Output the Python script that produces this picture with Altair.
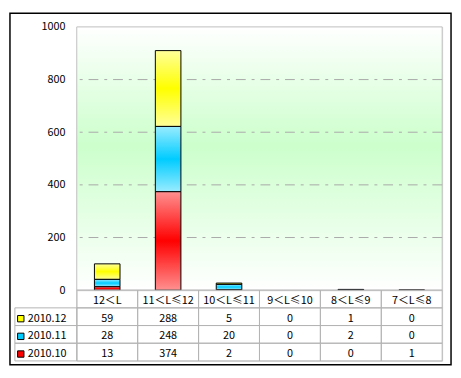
import altair as alt
import pandas as pd

categories = ["12＜L", "11＜L≤12", "10＜L≤11", "9＜L≤10", "8＜L≤9", "7＜L≤8"]
series = ["2010.12", "2010.11", "2010.10"]
v_2010_12 = [59, 288, 5, 0, 1, 0]
v_2010_11 = [28, 248, 20, 0, 2, 0]
v_2010_10 = [13, 374, 2, 0, 0, 1]
y_ticks = [0, 200, 400, 600, 800, 1000]
series_colors = ["#ffff00", "#00ccff", "#ff0000"]
series_light = ["#ffff99", "#99ecff", "#ff9090"]
stack_order = {"2010.10": 0, "2010.11": 1, "2010.12": 2}

rows = []
for s, vals in zip(series, [v_2010_12, v_2010_11, v_2010_10]):
    for c, v in zip(categories, vals):
        rows.append({"cat": c, "series": s, "value": v,
                     "order": stack_order[s], "label": str(v)})
df = pd.DataFrame(rows)

W, H = 372, 268
TH = 72
FONT = "Noto Sans CJK SC"

xs = alt.Scale(domain=categories, paddingInner=0.58, paddingOuter=0.29)
ys = alt.Scale(domain=[0, 1000])
yax = alt.Axis(values=y_ticks, grid=False, domain=False, ticks=False,
               labelPadding=12, labelFontSize=11, labelColor="black",
               title=None, labelFont=FONT, format="d")

one = pd.DataFrame({"k": [0]})

bg = alt.Chart(one).mark_rect(
    fill=alt.Gradient(gradient="linear", x1=0, y1=0, x2=0, y2=1, stops=[
        alt.GradientStop(offset=0, color="#ffffff"),
        alt.GradientStop(offset=0.45, color="#ccffcc"),
        alt.GradientStop(offset=1, color="#ffffff")]),
    stroke="#c0c0c0", strokeWidth=1
).encode(x=alt.value(0), x2=alt.value(W), y=alt.value(0), y2=alt.value(H))

grid = alt.Chart(pd.DataFrame({"t": y_ticks[1:-1]})).mark_rule(
    color="#a8a8a8", strokeDash=[10, 6, 3, 6], strokeWidth=1
).encode(y=alt.Y("t:Q", scale=ys, axis=yax))


def bar_layer(s, light, strong):
    grad = alt.Gradient(gradient="linear", x1=0, y1=0, x2=0, y2=1, stops=[
        alt.GradientStop(offset=0, color=light),
        alt.GradientStop(offset=0.5, color=strong),
        alt.GradientStop(offset=1, color=light)])
    return alt.Chart(df).transform_stack(
        stack="value", groupby=["cat"], as_=["y0", "y1"],
        sort=[alt.SortField("order", order="ascending")]
    ).transform_filter(alt.datum.series == s).transform_filter(
        alt.datum.value > 0
    ).mark_bar(fill=grad, stroke="black", strokeWidth=1).encode(
        x=alt.X("cat:N", scale=xs, axis=None),
        y=alt.Y("y0:Q", scale=ys, axis=yax),
        y2="y1:Q",
    )


bars = [bar_layer(s, l, c) for s, l, c in zip(series, series_light, series_colors)]

border = alt.Chart(one).mark_rect(
    fill="transparent", stroke="black", strokeWidth=1.5
).encode(x=alt.value(-68), x2=alt.value(381), y=alt.value(-14), y2=alt.value(H + TH + 4))

top = alt.layer(bg, grid, *bars, border).properties(width=W, height=H)

# ---- data table ----
row_domain = ["hdr"] + series
tx = alt.Scale(domain=categories, paddingInner=0, paddingOuter=0)
ty = alt.Scale(domain=row_domain, paddingInner=0, paddingOuter=0)

cells = pd.DataFrame([{"cat": c, "row": r} for r in row_domain for c in categories])
cell_rect = alt.Chart(cells).mark_rect(
    fill="transparent", stroke="#b4b4b4", strokeWidth=1
).encode(x=alt.X("cat:N", scale=tx, axis=None), y=alt.Y("row:N", scale=ty, axis=None))

leg_df = pd.DataFrame({"series": series})
leg_rect = alt.Chart(leg_df).mark_rect(
    fill="transparent", stroke="#b4b4b4", strokeWidth=1
).encode(x=alt.value(-63), x2=alt.value(0), y=alt.Y("series:N", scale=ty, axis=None))

leg_sq = alt.Chart(leg_df).mark_square(
    size=42, stroke="black", strokeWidth=1, opacity=1, yOffset=2
).encode(
    x=alt.value(-57),
    y=alt.Y("series:N", scale=ty, axis=None),
    fill=alt.Fill("series:N", scale=alt.Scale(domain=series, range=series_colors), legend=None),
)

leg_txt = alt.Chart(leg_df).mark_text(
    align="left", baseline="middle", dy=2, fontSize=11, font=FONT, color="black"
).encode(x=alt.value(-50), y=alt.Y("series:N", scale=ty, axis=None), text="series:N")

hdr_df = pd.DataFrame({"cat": categories, "row": ["hdr"] * len(categories)})
hdr_txt = alt.Chart(hdr_df).mark_text(
    baseline="middle", dy=2, fontSize=11, font=FONT, color="black"
).encode(x=alt.X("cat:N", scale=tx, axis=None),
         y=alt.Y("row:N", scale=ty, axis=None), text="cat:N")

val_txt = alt.Chart(df).mark_text(
    baseline="middle", dy=2, fontSize=11, font=FONT, color="black"
).encode(x=alt.X("cat:N", scale=tx, axis=None),
         y=alt.Y("series:N", scale=ty, axis=None), text="label:N")

table = alt.layer(cell_rect, leg_rect, leg_sq, leg_txt, hdr_txt, val_txt).properties(
    width=W, height=TH)

chart = alt.vconcat(top, table, spacing=0, bounds="flush").resolve_scale(
    x="independent", y="independent", fill="independent"
).properties(padding=0).configure_view(stroke=None).configure(font=FONT)

chart.save("out.html", embed_options={"renderer": "svg", "actions": False})
